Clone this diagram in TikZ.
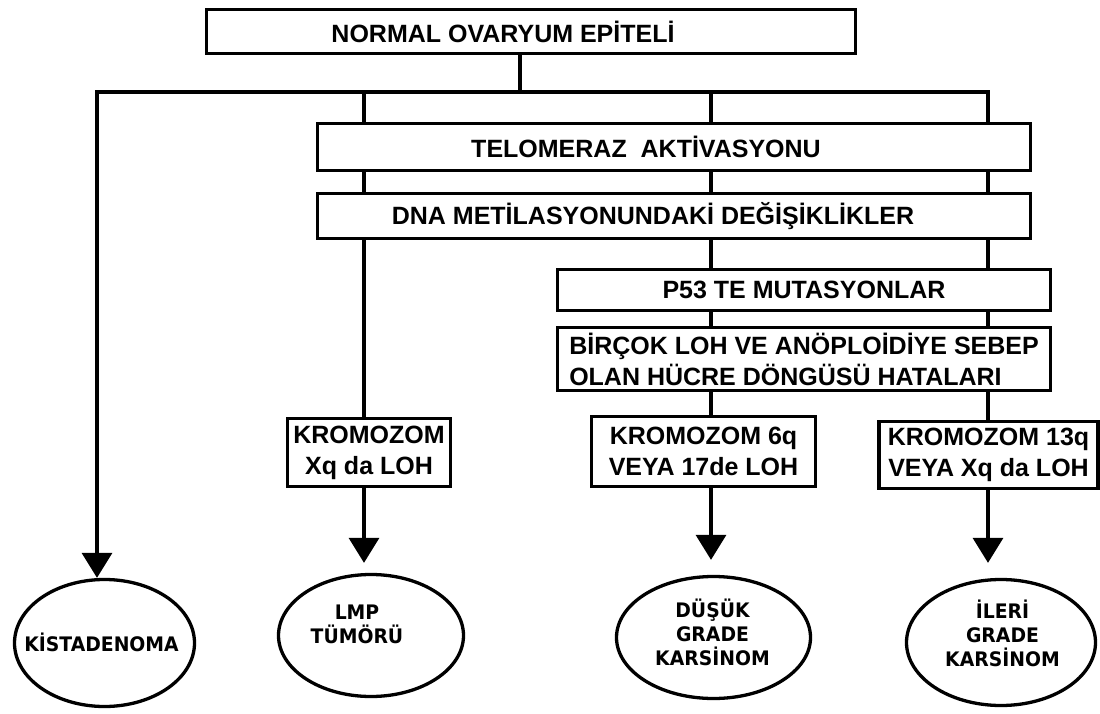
\documentclass[tikz,border=0pt]{standalone}
\usepackage{fontspec}
\setmainfont{Liberation Sans}
\newfontfamily\ovalfont{DejaVu Sans}[FakeStretch=0.94]
\usetikzlibrary{arrows.meta, shapes.geometric}

\begin{document}
\begin{tikzpicture}[x=1pt, y=-1pt]

\tikzset{box/.style = {shape=rectangle, draw, line width=3.3pt, inner sep=2pt, font=\fontsize{25}{31}\selectfont\bfseries}}
\tikzset{oval/.style = {shape=ellipse, draw, line width=3.3pt, inner sep=0pt}}
\tikzset{ovaltext/.style = {align=center, font=\ovalfont\fontsize{20}{24}\selectfont\bfseries}}
\tikzset{edge/.style = {line width=3.3pt, line cap=rect}}
\tikzset{arrowedge/.style = {line width=3.3pt, -{Triangle[length=25pt, width=30pt]}}}

\useasboundingbox (0,0) rectangle (1100,714);

%boxes
\node[box, minimum width=649, minimum height=44] (normal) at (531,31.5) {NORMAL OVARYUM EPİTELİ\hspace*{56pt}};
\node[box, minimum width=713, minimum height=47] (telo) at (674,147) {TELOMERAZ\ \ AKTİVASYONU\hspace*{56pt}};
\node[box, minimum width=713, minimum height=45] (dna) at (674,216) {DNA METİLASYONUNDAKİ DEĞİŞİKLİKLER\hspace*{42pt}};
\node[box, minimum width=493, minimum height=41] (p53) at (804,290) {P53 TE MUTASYONLAR};
\node[box, minimum width=493, minimum height=63, align=left] (bircok) at (804,359) {BİRÇOK LOH VE ANÖPLOİDİYE SEBEP\\OLAN HÜCRE DÖNGÜSÜ HATALARI};
\node[box, minimum width=163, minimum height=68, align=center] (xq) at (369,452.5) {KROMOZOM\\Xq da LOH};
\node[box, minimum width=224, minimum height=70, align=center] (k6q) at (703.5,451.5) {KROMOZOM 6q\\VEYA 17de LOH};
\node[box, minimum width=219, minimum height=67, align=center] (k13q) at (988.5,455) {KROMOZOM 13q\\VEYA Xq da LOH};

%ovals
\node[oval, minimum width=180, minimum height=127] (kist) at (104.5,643) {};
\node[oval, minimum width=185, minimum height=122] (lmp) at (371,635.5) {};
\node[oval, minimum width=194, minimum height=122] (dusuk) at (713.5,637.5) {};
\node[oval, minimum width=189, minimum height=126] (ileri) at (1001,642.5) {};
\node[ovaltext] (kist text) at (101.5,642) {KİSTADENOMA};
\node[ovaltext] (lmp text) at (357,624) {LMP\\TÜMÖRÜ};
\node[ovaltext] (dusuk text) at (712.5,632) {DÜŞÜK\\GRADE\\KARSİNOM};
\node[ovaltext] (ileri text) at (1002.5,633) {İLERİ\\GRADE\\KARSİNOM};

%lines
\coordinate (split) at (520,92);
\coordinate (busL) at (97,92);
\coordinate (busR) at (988,92);
\coordinate (b1) at (364,92);
\coordinate (b2) at (711,92);
\draw[edge] (normal.south -| split) -- (split);
\draw[arrowedge] (busR) -- (busL) -- (busL |- kist.north);
\foreach \c in {b1,b2,busR} {
  \draw[edge] (\c) -- (\c |- telo.north);
  \draw[edge] (\c |- telo.south) -- (\c |- dna.north);
}
\draw[edge] (b1 |- dna.south) -- (b1 |- xq.north);
\foreach \c in {b2,busR} {
  \draw[edge] (\c |- dna.south) -- (\c |- p53.north);
  \draw[edge] (\c |- p53.south) -- (\c |- bircok.north);
}
\draw[edge] (b2 |- bircok.south) -- (b2 |- k6q.north);
\draw[edge] (busR |- bircok.south) -- (busR |- k13q.north);

%arrows
\draw[arrowedge, shorten >=10pt] (b1 |- xq.south) -- (b1 |- lmp.north);
\draw[arrowedge, shorten >=15pt] (b2 |- k6q.south) -- (b2 |- dusuk.north);
\draw[arrowedge, shorten >=15pt] (busR |- k13q.south) -- (busR |- ileri.north);

\end{tikzpicture}
\end{document}
